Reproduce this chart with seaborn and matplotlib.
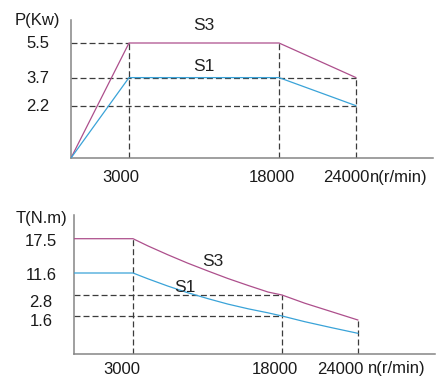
import numpy as np
import pandas as pd
import seaborn as sns
import matplotlib.pyplot as plt

# power curve (top chart)
speed_p = [0, 3000, 18000, 24000]
power_s3 = [0, 5.5, 5.5, 3.7]
power_s1 = [0, 3.7, 3.7, 2.2]
p_ticks = [5.5, 3.7, 2.2]

# torque curve (bottom chart)
speed_t = [0, 3000, 4500, 6500, 8500, 10550, 12550, 14600, 16600, 18000, 19800, 21900, 24000]
torque_s3 = [17.5, 17.5, 16.26, 14.74, 13.3, 11.94, 9.4, 6.6, 3.98, 2.8, 2.33, 1.85, 1.43]
torque_s1 = [11.6, 11.6, 9.28, 6.38, 3.73, 2.59, 2.28, 2.01, 1.78, 1.6, 1.36, 1.11, 0.87]
t_ticks = [17.5, 11.6, 2.8, 1.6]

speed_ticks = [3000, 18000, 24000]

sns.set_theme(style='white')
plt.rcParams['font.family'] = ['Liberation Sans', 'DejaVu Sans']
plt.rcParams['lines.scale_dashes'] = False

c_s3 = '#ad4f8c'
c_s1 = '#3aa3d8'
c_dash = '#3c3c3c'
c_axis = '#858585'
dash = (0, (4.3, 2.2))


def interp_scale(vals, pos):
    fwd = lambda v: np.interp(v, vals, pos)
    inv = lambda p: np.interp(p, pos, vals)
    return fwd, inv


fig = plt.figure(figsize=(4.42, 3.88), dpi=100)
ax1 = fig.add_axes([71 / 442, 1 - 158 / 388, 362 / 442, 138 / 388])
ax2 = fig.add_axes([74 / 442, 1 - 354 / 388, 361 / 442, 139 / 388])

# ---- top: power ----
sns.lineplot(x=speed_p, y=power_s3, ax=ax1, color=c_s3, lw=0.9, estimator=None, sort=False, zorder=3)
sns.lineplot(x=speed_p, y=power_s1, ax=ax1, color=c_s1, lw=0.9, estimator=None, sort=False, zorder=3)
ax1.set_xscale('function', functions=interp_scale([0, 3000, 18000, 24000, 30000], [0, 58, 208, 285, 362]))
ax1.set_yscale('function', functions=interp_scale([0, 2.2, 3.7, 5.5, 6.7], [0, 52.3, 80.4, 115, 138]))
ax1.set_xlim(0, 30000)
ax1.set_ylim(0, 6.7)

ax1.hlines(5.5, 0, 3000, color=c_dash, lw=0.9, linestyle=dash, zorder=2)
ax1.hlines([3.7, 2.2], 0, 24000, color=c_dash, lw=0.9, linestyle=dash, zorder=2)
ax1.vlines([3000, 18000], 0, 5.5, color=c_dash, lw=0.9, linestyle=dash, zorder=2)
ax1.vlines(24000, 0, 3.7, color=c_dash, lw=0.9, linestyle=dash, zorder=2)

ax1.text(10500, 6.39, 'S3', fontsize=12.5, ha='center', va='center', color='#222222')
ax1.text(10500, 4.3, 'S1', fontsize=12.5, ha='center', va='center', color='#222222')

# ---- bottom: torque ----
sns.lineplot(x=speed_t, y=torque_s3, ax=ax2, color=c_s3, lw=0.9, estimator=None, sort=False, zorder=3)
sns.lineplot(x=speed_t, y=torque_s1, ax=ax2, color=c_s1, lw=0.9, estimator=None, sort=False, zorder=3)
ax2.set_xscale('function', functions=interp_scale([0, 3000, 18000, 24000, 30000], [0, 59, 208, 284, 361]))
ax2.set_yscale('function', functions=interp_scale([0, 1.6, 2.8, 11.6, 17.5, 20], [0, 38, 59, 81, 115.3, 139]))
ax2.set_xlim(0, 30000)
ax2.set_ylim(0, 20)

ax2.hlines([2.8, 1.6], 0, 18000, color=c_dash, lw=0.9, linestyle=dash, zorder=2)
ax2.vlines(3000, 0, 17.5, color=c_dash, lw=0.9, linestyle=dash, zorder=2)
ax2.vlines(18000, 0, 2.8, color=c_dash, lw=0.9, linestyle=dash, zorder=2)
ax2.vlines(24000, 0, torque_s3[-1], color=c_dash, lw=0.9, linestyle=dash, zorder=2)

ax2.text(11050, 13.5, 'S3', fontsize=12.5, ha='center', va='center', color='#222222')
ax2.text(8235, 5.6, 'S1', fontsize=12.5, ha='center', va='center', color='#222222')

# axes styling and labels
for ax in (ax1, ax2):
    sns.despine(ax=ax)
    for side in ('left', 'bottom'):
        ax.spines[side].set_color(c_axis)
        ax.spines[side].set_linewidth(1.1)
    ax.set_xticks([])
    ax.set_yticks([])
    ax.set_xlabel('')
    ax.set_ylabel('')


def label(ax, text, xy, off, ha='center'):
    ax.annotate(text, xy=xy, xytext=off, textcoords='offset pixels', ha=ha, va='center',
                fontsize=12, color='#1a1a1a', annotation_clip=False)


label(ax1, '3000', (3000, 0), (-8, -19.5))
label(ax1, '18000', (18000, 0), (-7, -19.5))
label(ax1, '24000', (24000, 0), (13, -19.5), ha='right')
label(ax1, 'n(r/min)', (24000, 0), (14, -19.5), ha='left')
for v in p_ticks:
    label(ax1, str(v), (0, v), (-33.5, -1))
label(ax1, 'P(Kw)', (0, 6.7), (-34, 0))

label(ax2, '3000', (3000, 0), (-11.5, -15))
label(ax2, '18000', (18000, 0), (-7, -15))
label(ax2, '24000', (24000, 0), (5, -15), ha='right')
label(ax2, 'n(r/min)', (24000, 0), (10, -15), ha='left')
for v, dy in zip(t_ticks, [-2.7, -2.4, -7.7, -5]):
    label(ax2, str(v), (0, v), (-33, dy))
label(ax2, 'T(N.m)', (0, 20), (-32, -3))

fig.savefig('out.png', dpi=100)
